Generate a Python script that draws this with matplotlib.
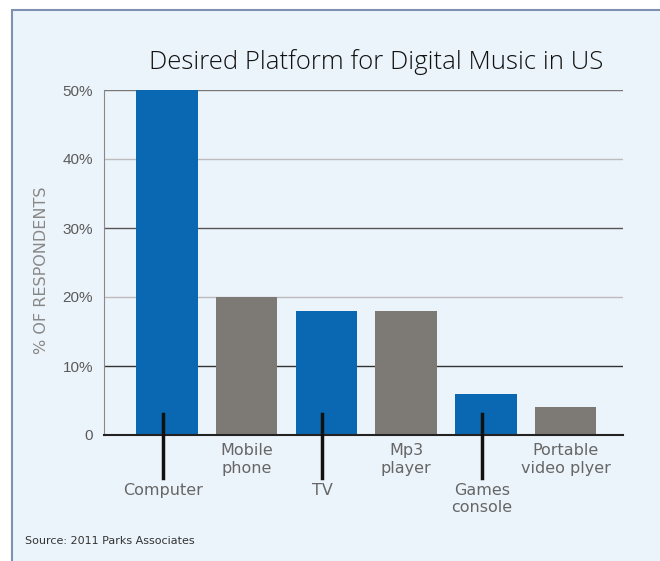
import matplotlib.pyplot as plt
from matplotlib.patches import Rectangle

# data
platforms = ["Computer", "Mobile\nphone", "TV", "Mp3\nplayer", "Games\nconsole", "Portable\nvideo plyer"]
share = [50, 20, 18, 18, 6, 4]
is_blue = [True, False, True, False, True, False]
yticks = [0, 10, 20, 30, 40, 50]
ytick_labels = ["0", "10%", "20%", "30%", "40%", "50%"]

blue = "#0a68b2"
grey = "#7d7a75"
txt = "#5a5a5a"

fig = plt.figure(figsize=(6.6, 5.61), dpi=100)
fig.patch.set_facecolor("white")
# light blue panel with border
fig.patches.append(Rectangle((12 / 660, -0.1), 1.1, 1 - 10 / 561 + 0.1,
                             transform=fig.transFigure, facecolor="#ecf4fb",
                             edgecolor="#8090b0", linewidth=1.5, zorder=-1))

ax = fig.add_axes([104 / 660, 1 - 435 / 561, (623 - 104) / 660, (435 - 90) / 561])
ax.set_facecolor("none")

# grid lines, alternating dark / light
grid_cols = {10: "#333333", 20: "#bbbbbb", 30: "#555555", 40: "#bbbbbb", 50: "#777777"}
for v, c in grid_cols.items():
    ax.axhline(v, color=c, lw=1, zorder=1)

x = list(range(len(platforms)))
colors = [blue if b else grey for b in is_blue]
ax.bar(x, share, width=0.77, color=colors, zorder=2)

ax.set_xlim(-0.79, 5.72)
ax.set_ylim(0, 50)
ax.set_yticks(yticks)
ax.set_yticklabels(ytick_labels, fontsize=11, color=txt, family="Liberation Sans")
ax.tick_params(axis="y", length=0, pad=8)
ax.set_xticks([])
for s in ["top", "right"]:
    ax.spines[s].set_visible(False)
ax.spines["left"].set_color("#888888")
ax.spines["bottom"].set_color("#222222")
ax.spines["bottom"].set_linewidth(1.5)

# labels: blue bars get a leader line and a low label, grey bars sit higher
for i, (name, b) in enumerate(zip(platforms, is_blue)):
    if b:
        ax.plot([i - 0.05, i - 0.05], [3, -6.3], color="#111111", lw=2.5,
                clip_on=False, zorder=3)
        ax.text(i - 0.05, -6.9, name, ha="center", va="top", fontsize=11.5,
                color="#666666", linespacing=1.2, clip_on=False)
    else:
        ax.text(i, -1.2, name, ha="center", va="top", fontsize=11.5,
                color="#666666", linespacing=1.2, clip_on=False)

fig.text(42 / 660, 1 - 270 / 561, "% OF RESPONDENTS", rotation=90,
         ha="center", va="center", fontsize=11.5, color="#888888")
fig.text(376 / 660, 1 - 62 / 561, "Desired Platform for Digital Music in US",
         ha="center", va="center", fontsize=18.5, color="#111111",
         family="Open Sans", fontweight="light")
fig.text(25 / 660, 1 - 541 / 561, "Source: 2011 Parks Associates",
         ha="left", va="center", fontsize=8, color="#333333",
         family="Liberation Sans Narrow")

fig.savefig("out.png", dpi=100)
